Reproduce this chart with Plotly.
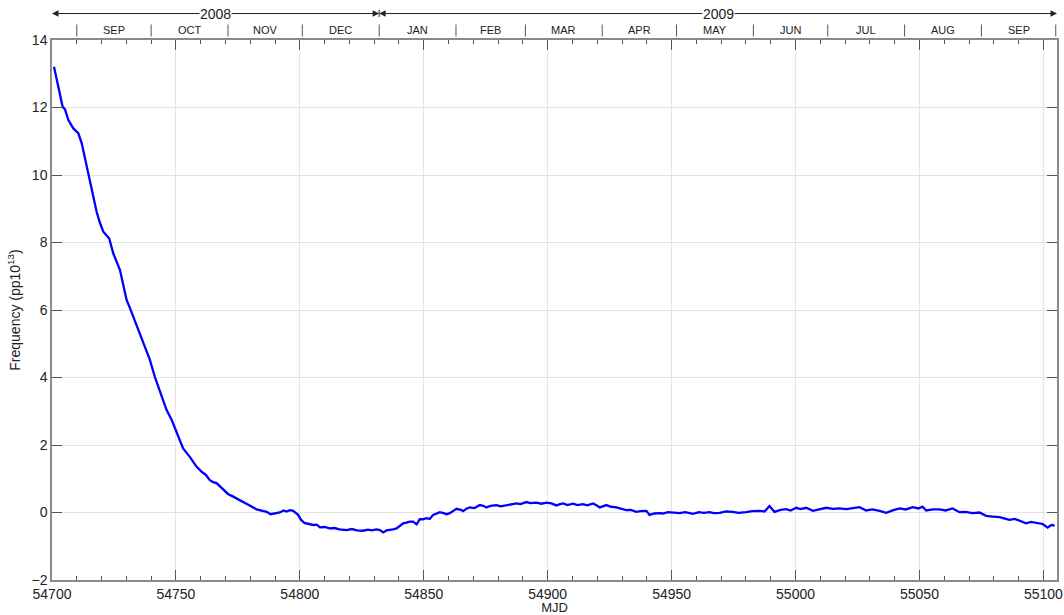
import plotly.graph_objects as go

# Frequency offset of the clock versus Modified Julian Date
mjd = [
    54700.8, 54702.0, 54703.2, 54704.3, 54705.2, 54706.6, 54708.6, 54710.6, 54712.0, 54714.0,
    54716.0, 54718.0, 54719.4, 54720.7, 54723.1, 54724.7, 54727.4, 54728.8, 54730.1, 54731.5,
    54732.8, 54734.8, 54736.8, 54739.5, 54741.5, 54744.2, 54746.2, 54748.3, 54750.3, 54752.9,
    54755.6, 54758.3, 54760.5, 54762.0, 54763.7, 54765.0, 54766.4, 54769.1, 54771.0, 54773.1,
    54775.0, 54777.1, 54778.5, 54780.5, 54782.5, 54784.5, 54786.6, 54788.2, 54790.0, 54791.9,
    54793.5, 54794.6, 54796.0, 54797.3, 54799.3, 54800.5, 54801.8, 54803.5, 54805.4, 54806.8,
    54808.1, 54810.0, 54812.0, 54814.0, 54816.0, 54818.8, 54821.0, 54823.0, 54825.5, 54827.5,
    54829.0, 54830.9, 54832.3, 54833.6, 54835.0, 54837.6, 54839.0, 54840.3, 54841.7, 54843.0,
    54844.4, 54845.7, 54847.1, 54848.4, 54849.7, 54851.0, 54852.4, 54853.8, 54855.0, 54856.5,
    54858.0, 54859.2, 54860.5, 54862.0, 54863.2, 54865.0, 54865.9, 54867.2, 54868.5, 54870.5,
    54872.6, 54874.0, 54875.3, 54877.0, 54879.3, 54881.0, 54883.3, 54885.0, 54887.4, 54889.0,
    54891.4, 54893.0, 54895.4, 54897.5, 54899.5, 54901.5, 54903.5, 54905.0, 54906.2, 54908.0,
    54910.2, 54912.0, 54914.2, 54916.0, 54918.3, 54920.0, 54921.0, 54923.7, 54925.5, 54927.7,
    54929.5, 54931.7, 54933.5, 54935.8, 54937.5, 54939.8, 54941.1, 54943.0, 54945.2, 54946.5,
    54948.5, 54950.5, 54953.2, 54955.5, 54958.6, 54961.0, 54963.0, 54965.3, 54967.0, 54969.4,
    54972.0, 54974.7, 54977.0, 54980.1, 54982.5, 54985.5, 54987.5, 54989.5, 54991.5, 54994.0,
    54996.2, 54998.0, 55000.3, 55002.0, 55004.3, 55007.0, 55009.5, 55012.4, 55015.0, 55017.7,
    55020.5, 55023.1, 55025.8, 55028.5, 55031.0, 55033.9, 55036.6, 55039.5, 55042.0, 55044.5,
    55047.3, 55049.5, 55051.3, 55052.7, 55055.5, 55058.1, 55060.5, 55063.4, 55066.1, 55068.5,
    55071.5, 55074.2, 55076.9, 55079.6, 55082.3, 55084.5, 55086.3, 55088.5, 55090.3, 55093.0,
    55095.0, 55097.0, 55099.7, 55101.7, 55103.0, 55103.7, 55104.5,
]
freq = [
    13.21, 12.80, 12.40, 12.02, 11.95, 11.63, 11.38, 11.24, 10.94, 10.25,
    9.56, 8.91, 8.57, 8.32, 8.12, 7.68, 7.19, 6.75, 6.30, 6.05,
    5.80, 5.41, 5.06, 4.52, 4.02, 3.43, 3.04, 2.74, 2.35, 1.90,
    1.65, 1.36, 1.20, 1.12, 0.96, 0.90, 0.87, 0.67, 0.55, 0.47,
    0.40, 0.32, 0.27, 0.18, 0.09, 0.06, 0.02, -0.05, -0.03, 0.00,
    0.06, 0.03, 0.07, 0.05, -0.07, -0.22, -0.31, -0.33, -0.37, -0.36,
    -0.44, -0.43, -0.47, -0.46, -0.50, -0.52, -0.49, -0.53, -0.54, -0.51,
    -0.53, -0.50, -0.52, -0.59, -0.53, -0.50, -0.47, -0.40, -0.32, -0.30,
    -0.27, -0.27, -0.35, -0.20, -0.20, -0.17, -0.19, -0.07, -0.04, 0.01,
    -0.02, -0.05, -0.02, 0.06, 0.11, 0.08, 0.04, 0.11, 0.15, 0.13,
    0.22, 0.20, 0.15, 0.20, 0.22, 0.18, 0.22, 0.24, 0.27, 0.25,
    0.31, 0.28, 0.29, 0.26, 0.29, 0.27, 0.21, 0.25, 0.27, 0.22,
    0.26, 0.22, 0.25, 0.21, 0.27, 0.20, 0.15, 0.22, 0.17, 0.15,
    0.11, 0.07, 0.08, 0.02, 0.04, 0.05, -0.07, -0.03, -0.02, -0.03,
    0.01, 0.00, -0.02, 0.01, -0.04, 0.01, -0.01, 0.01, -0.02, -0.01,
    0.03, 0.02, -0.01, 0.01, 0.04, 0.05, 0.03, 0.19, 0.02, 0.08,
    0.10, 0.06, 0.14, 0.10, 0.14, 0.05, 0.10, 0.14, 0.11, 0.12,
    0.10, 0.12, 0.16, 0.06, 0.09, 0.05, -0.01, 0.07, 0.12, 0.09,
    0.16, 0.12, 0.17, 0.06, 0.09, 0.09, 0.06, 0.12, 0.01, 0.02,
    -0.02, 0.00, -0.10, -0.12, -0.14, -0.18, -0.22, -0.19, -0.24, -0.32,
    -0.28, -0.30, -0.34, -0.45, -0.38, -0.37, -0.40,
]

# Calendar header: month boundaries (MJD of the 1st) and labels
month_starts = [54710, 54740, 54771, 54801, 54832, 54863, 54891, 54922,
                54952, 54983, 55013, 55044, 55075, 55105]
month_labels = ["SEP", "OCT", "NOV", "DEC", "JAN", "FEB", "MAR", "APR",
                "MAY", "JUN", "JUL", "AUG", "SEP"]
year_spans = [("2008", 54700.0, 54832), ("2009", 54832, 55105.5)]

x_range = [54700, 55105.5]
y_range = [-2, 14]

FONT = "Liberation Sans, Arial, Helvetica, sans-serif"
AXIS_GRAY = "#8a8a8a"
TICK_GRAY = "#555555"

fig = go.Figure()
fig.add_trace(go.Scatter(
    x=mjd, y=freq, mode="lines",
    line=dict(color="#0000ff", width=2.3),
    showlegend=False, hoverinfo="x+y",
))

shapes = []
annotations = []

# month separators and names
for b in month_starts:
    shapes.append(dict(type="line", xref="x", yref="paper", x0=b, x1=b,
                       y0=1.0065, y1=1.0287,
                       line=dict(color=TICK_GRAY, width=1)))
for i, name in enumerate(month_labels):
    mid = 0.5 * (month_starts[i] + month_starts[i + 1])
    annotations.append(dict(x=mid, y=1.0185, xref="x", yref="paper",
                            xanchor="center", yanchor="middle",
                            text=name, showarrow=False,
                            font=dict(size=11, color="#222", family=FONT)))

# year spans with arrows at both ends
YEAR_Y = 1.049
for label, x0, x1 in year_spans:
    mid = 0.5 * (x0 + x1)
    for end in (x0, x1):
        annotations.append(dict(x=end, y=YEAR_Y, xref="x", yref="paper",
                                ax=mid, ay=0, axref="x", ayref="pixel",
                                text="", showarrow=True, arrowhead=2,
                                arrowsize=1.3, arrowwidth=1,
                                arrowcolor="#222", standoff=0))
    annotations.append(dict(x=mid, y=YEAR_Y, xref="x", yref="paper",
                            xanchor="center", yanchor="middle",
                            text=label, showarrow=False, bgcolor="white",
                            borderpad=0,
                            font=dict(size=14, color="#222", family=FONT)))
# marker at the year boundary
shapes.append(dict(type="line", xref="x", yref="paper", x0=54832, x1=54832,
                   y0=1.0425, y1=1.056, line=dict(color="#222", width=1)))

fig.update_layout(
    width=1064, height=615,
    margin=dict(l=52, r=7, t=40, b=35),
    paper_bgcolor="white", plot_bgcolor="white",
    font=dict(family=FONT, size=13, color="#222"),
    shapes=shapes, annotations=annotations,
    xaxis=dict(
        range=x_range, dtick=50, tick0=54700, tickformat="d",
        automargin=False,
        showgrid=True, gridcolor="#e4e4e4", gridwidth=1,
        zeroline=False,
        showline=True, linecolor=AXIS_GRAY, linewidth=1.5,
        mirror="allticks", ticks="inside", ticklen=10, tickcolor=TICK_GRAY,
        tickwidth=1,
        minor=dict(dtick=10, ticks="inside", ticklen=4, tickcolor=TICK_GRAY,
                   showgrid=False),
        tickfont=dict(size=14, family=FONT),
        title=dict(text="MJD", font=dict(size=13, family=FONT), standoff=2),
    ),
    yaxis=dict(
        range=y_range, dtick=2,
        automargin=False,
        showgrid=True, gridcolor="#e4e4e4", gridwidth=1,
        zeroline=False,
        showline=True, linecolor=AXIS_GRAY, linewidth=1.5,
        mirror="allticks", ticks="inside", ticklen=10, tickcolor=TICK_GRAY,
        tickwidth=1,
        tickfont=dict(size=14, family=FONT),
        title=dict(text="Frequency (pp10<sup>13</sup>)",
                   font=dict(size=14, family=FONT), standoff=8),
    ),
)

fig.write_html("out.html")
